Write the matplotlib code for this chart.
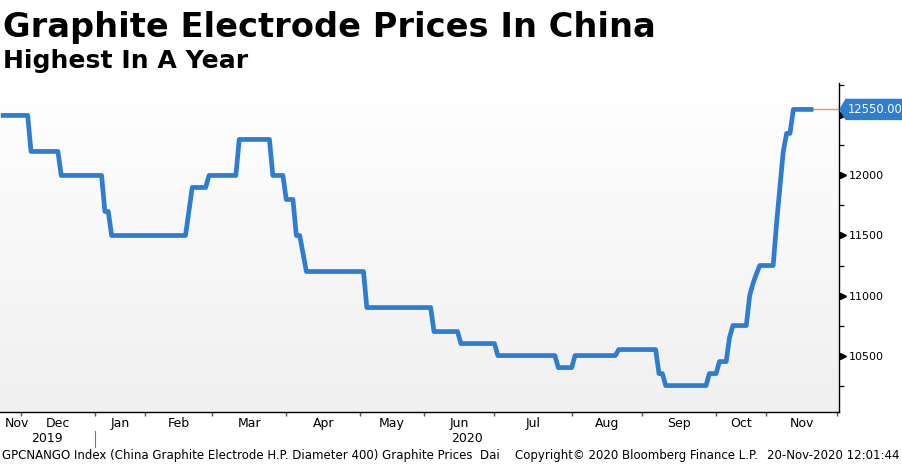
import matplotlib
matplotlib.use("Agg")
import matplotlib.pyplot as plt
import numpy as np
import pandas as pd
from matplotlib import transforms
from matplotlib.patches import Polygon
from matplotlib.lines import Line2D
from matplotlib.colors import LinearSegmentedColormap
from matplotlib.ticker import FixedLocator, MultipleLocator

# ---------------- text ----------------
title = "Graphite Electrode Prices In China"
subtitle = "Highest In A Year"
footer_left = "GPCNANGO Index (China Graphite Electrode H.P. Diameter 400) Graphite Prices  Dai"
footer_mid = "Copyright\u00a9 2020 Bloomberg Finance L.P."
footer_right = "20-Nov-2020 12:01:44"

# ---------------- data (price level changes, CNY/t) ----------------
change_dates = [
    "2019-11-22", "2019-12-05", "2019-12-18", "2020-01-07", "2020-01-09",
    "2020-02-20", "2020-02-21", "2020-02-28", "2020-03-12", "2020-03-26",
    "2020-04-01", "2020-04-06", "2020-04-08", "2020-04-09", "2020-05-07",
    "2020-06-04", "2020-06-16", "2020-07-02", "2020-07-28", "2020-08-04",
    "2020-08-21", "2020-09-08", "2020-09-10", "2020-09-29", "2020-10-13",
    "2020-10-16", "2020-10-19", "2020-10-26", "2020-10-27", "2020-10-28",
    "2020-10-29", "2020-11-05", "2020-11-06", "2020-11-09", "2020-11-10",
    "2020-11-12",
]
change_values = [
    12500, 12200, 12000, 11700, 11500,
    11700, 11900, 12000, 12300, 12000,
    11800, 11500, 11350, 11200, 10900,
    10700, 10600, 10500, 10400, 10500,
    10550, 10350, 10250, 10350, 10450,
    10650, 10750, 11000, 11100, 11180,
    11250, 11600, 11900, 12200, 12350,
    12550,
]
series_end = "2020-11-20"
axis_end = "2020-12-01"
holidays = [
    "2020-01-01", "2020-01-23", "2020-01-24", "2020-01-27", "2020-01-28",
    "2020-01-29", "2020-01-30", "2020-01-31", "2020-05-01", "2020-05-04",
    "2020-06-25", "2020-10-01", "2020-10-02", "2020-10-05", "2020-10-06",
    "2020-10-07", "2020-10-08", "2020-10-09",
]
month_labels = ["Nov", "Dec", "Jan", "Feb", "Mar", "Apr", "May", "Jun",
                "Jul", "Aug", "Sep", "Oct", "Nov"]
year_labels = ["2019", "2020"]
y_ticks = [10500, 11000, 11500, 12000, 12500]
y_minor_step = 250
y_limits = (10030, 12770)

BLUE = "#2f7dd1"
ORANGE = "#eea032"

W, H = 903, 465
fig = plt.figure(figsize=(W / 100, H / 100), dpi=100)
fig.patch.set_facecolor("white")
ax_top, ax_bot, ax_right = 83, 412, 839
ax = fig.add_axes([0, (H - ax_bot) / H, ax_right / W, (ax_bot - ax_top) / H])
plt.rcParams["font.family"] = ["DejaVu Sans"]

# calendar of trading days -> x positions
cal = pd.bdate_range(start=change_dates[0], end=axis_end, freq="C",
                     holidays=holidays)
pos = pd.Series(np.arange(len(cal)), index=cal)
s = pd.Series(change_values, index=pd.to_datetime(change_dates))
days = cal[cal <= pd.Timestamp(series_end)]
vals = s.reindex(s.index.union(days)).ffill().reindex(days)
xv = pos[days].values
yv = vals.values

xlim = (-0.24, len(cal) - 1 + 0.6)

# background gradient
cmap = LinearSegmentedColormap.from_list("g", ["#f0f0f0", "#ffffff"])
ax.imshow(np.linspace(0, 1, 256).reshape(-1, 1), extent=[0, 1, 0, 1],
          transform=ax.transAxes, cmap=cmap, aspect="auto", origin="lower",
          zorder=0, interpolation="bilinear")

ax.plot(xv, yv, color=BLUE, lw=3.4, solid_joinstyle="round",
        solid_capstyle="butt", zorder=3)
ax.plot([xv[-1], xlim[1]], [yv[-1], yv[-1]], color=ORANGE, lw=1.0, zorder=2)

ax.set_xlim(*xlim)
ax.set_ylim(*y_limits)

for sp in ["top", "left"]:
    ax.spines[sp].set_visible(False)
for sp in ["bottom", "right"]:
    ax.spines[sp].set_color("black")
    ax.spines[sp].set_linewidth(1.0)

# month ticks
first_idx = pos.groupby(cal.to_period("M")).min()
month_starts = list(first_idx.values[1:])
ax.xaxis.set_major_locator(FixedLocator(month_starts))
ax.set_xticklabels([])
ax.tick_params(axis="x", which="major", direction="out", length=3.2,
               width=1.0, color="#555555")

# y axis on the right
ax.yaxis.tick_right()
ax.yaxis.set_major_locator(FixedLocator(y_ticks))
ax.yaxis.set_minor_locator(MultipleLocator(y_minor_step))
ax.set_yticklabels([str(v) for v in y_ticks])
ax.tick_params(axis="y", which="major", length=0, pad=7.2, labelsize=8,
               labelcolor="black")
ax.tick_params(axis="y", which="minor", length=3.6, width=0.9,
               color="black", direction="out")
tri_tr = transforms.blended_transform_factory(ax.transAxes, ax.transData)
ax.plot([1 + 4 / ax_right] * len(y_ticks), y_ticks, transform=tri_tr,
        marker=">", ms=4.2, color="black", ls="none", clip_on=False,
        zorder=5)

# month labels centred in month intervals
bt = transforms.blended_transform_factory(ax.transData, fig.transFigure)
bounds = [xlim[0]] + month_starts
for i, lab in enumerate(month_labels):
    a, b = bounds[i], bounds[i + 1]
    if i == 0:
        fig.text(5 / W, (H - 423) / H, lab, ha="left", va="center",
                 fontsize=9, color="black")
    else:
        fig.text((a + b) / 2, (H - 423) / H, lab, transform=bt, ha="center",
                 va="center", fontsize=9, color="black")

jan_idx = month_starts[1]
fig.text((xlim[0] + jan_idx) / 2, (H - 438) / H, year_labels[0], transform=bt,
         ha="center", va="center", fontsize=9)
fig.text((jan_idx + xlim[1]) / 2, (H - 438) / H, year_labels[1], transform=bt,
         ha="center", va="center", fontsize=9)
fig.add_artist(Line2D([jan_idx, jan_idx], [(H - 431) / H, (H - 447) / H],
                      transform=bt, color="#777777", lw=0.8))

# titles and footer
r = fig.canvas.get_renderer()


def fit(t, width_px):
    w = t.get_window_extent(r).width
    t.set_fontsize(t.get_fontsize() * width_px / w)


t1 = fig.text(3 / W, (H - 37) / H, title, fontsize=24, fontweight="bold",
              va="baseline", ha="left", color="black")
fit(t1, 652)
t2 = fig.text(3 / W, (H - 68) / H, subtitle, fontsize=16, fontweight="bold",
              va="baseline", ha="left", color="black")
fit(t2, 245)
f1 = fig.text(2 / W, (H - 455) / H, footer_left, fontsize=9, va="center",
              ha="left")
fit(f1, 495)
fsize = f1.get_fontsize()
f2 = fig.text(515 / W, (H - 455) / H, footer_mid, fontsize=fsize,
              va="center", ha="left")
f3 = fig.text(900 / W, (H - 455) / H, footer_right, fontsize=fsize,
              va="center", ha="right")

# last value tag
fig.canvas.draw()
yc = ax.transData.transform((0, yv[-1]))[1]
xs = ax.transAxes.transform((1, 0))[0]
tag = Polygon([(xs + 1, yc), (xs + 7, yc + 10), (W + 5, yc + 10),
               (W + 5, yc - 10), (xs + 7, yc - 10)], closed=True,
              transform=transforms.IdentityTransform(), facecolor=BLUE,
              edgecolor=BLUE, zorder=10)
fig.add_artist(tag)
fig.text((xs + 9) / W, yc / H, f"{yv[-1]:.2f}", color="white", fontsize=8.3,
         va="center", ha="left", zorder=11)

fig.savefig("out.png", dpi=100, facecolor="white")
